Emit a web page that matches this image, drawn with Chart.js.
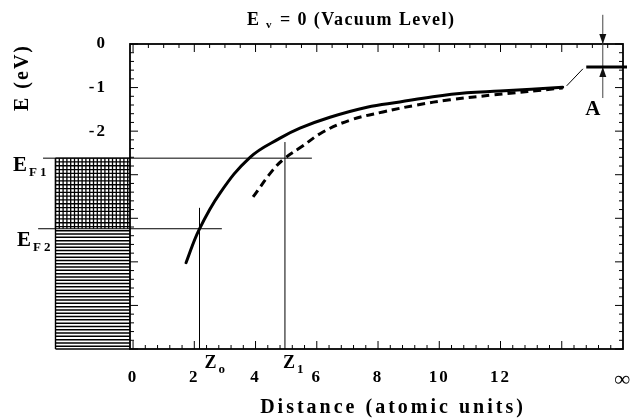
<!DOCTYPE html>
<html><head><meta charset="utf-8">
<script src="https://cdn.jsdelivr.net/npm/chart.js@4.4.0/dist/chart.umd.min.js"></script>
<style>html,body{margin:0;padding:0;background:#fff;}#wrap{width:631px;height:420px;}</style>
</head><body><div id="wrap"><canvas id="c" width="631" height="420"></canvas></div>
<script>
// ---- data ----
const solidDist   = [1.73, 2.15, 2.84, 3.82, 4.80, 5.45, 6.43, 7.64, 8.71, 9.79, 10.9, 11.98, 14.03];
const solidEnergy = [-5.02, -4.27, -3.42, -2.60, -2.16, -1.93, -1.68, -1.45, -1.33, -1.21, -1.12, -1.08, -0.99];
const dashedDist   = [3.92, 4.57, 4.96, 5.50, 6.20, 7.08, 8.16, 9.27, 10.35, 11.75, 14.03];
const dashedEnergy = [-3.51, -2.89, -2.62, -2.36, -2.02, -1.75, -1.56, -1.40, -1.28, -1.17, -1.01];
const xTickValues = [0, 2, 4, 6, 8, 10, 12, 16];
const xTickLabels = ['0', '2', '4', '6', '8', '10', '12', '\u221E'];
const yTickValues = [0, -1, -2];
const yTickLabels = ['0', '-1', '-2'];
const fermiLevels = [-2.62, -4.24];      // E_F1, E_F2
const fermiNames  = ['F1', 'F2'];
const zPositions  = [2.17, 4.96];        // Z_o, Z_1
const zNames      = ['o', '1'];
const vacuumLevel = 0;
const affinityLevel = -0.53;             // level marked "A"

// ---- drawing geometry (not data) ----
const metalLeft = -2.55;
const fermiSpan = [[-2.94, 5.84], [-3.1, 2.9]];
const zTop = [-3.76, -2.25];
const SERIF = '"Liberation Serif", "Times New Roman", serif';

function line(ctx, x0, y0, x1, y1) { ctx.beginPath(); ctx.moveTo(x0, y0); ctx.lineTo(x1, y1); ctx.stroke(); }

const decor = {
  id: 'decor',
  beforeDraw(chart) { chart.ctx.letterSpacing = '2px'; },
  beforeDatasetsDraw(chart) {
    const {ctx, chartArea: a, scales: {x, y}} = chart;
    const X = v => x.getPixelForValue(v), Y = v => y.getPixelForValue(v);
    ctx.save();
    ctx.strokeStyle = '#000';
    // metal block
    const mx0 = Math.round(X(metalLeft)) + 0.5, mx1 = a.left;
    const yF1 = Y(fermiLevels[0]), yF2 = Y(fermiLevels[1]), yB = a.bottom;
    ctx.lineWidth = 1.3;
    for (let xx = mx0; xx <= mx1; xx += 3.8) line(ctx, xx, yF1, xx, yF2);
    for (let yy = yF1; yy <= yF2; yy += 3.8) line(ctx, mx0, yy, mx1, yy);
    ctx.lineWidth = 1.5;
    for (let yy = yF2 + 2; yy <= yB; yy += 3.3) line(ctx, mx0, yy, mx1, yy);
    ctx.lineWidth = 1.4;
    line(ctx, mx0, yF1, mx0, yB); line(ctx, mx0, yB, mx1, yB);
    // Fermi level lines
    ctx.lineWidth = 1;
    fermiLevels.forEach((e, i) => line(ctx, X(fermiSpan[i][0]), Y(e), X(fermiSpan[i][1]), Y(e)));
    // Z lines
    zPositions.forEach((z, i) => line(ctx, X(z), Y(zTop[i]), X(z), a.bottom));
    ctx.restore();
  },
  afterDraw(chart) {
    const {ctx, chartArea: a, scales: {x, y}} = chart;
    const X = v => x.getPixelForValue(v), Y = v => y.getPixelForValue(v);
    ctx.save();
    ctx.strokeStyle = '#000'; ctx.fillStyle = '#000';
    // frame
    ctx.lineWidth = 1.8;
    ctx.strokeRect(a.left, a.top, a.right - a.left, a.bottom - a.top);
    // inward ticks
    ctx.lineWidth = 1;
    for (let i = 0; i <= 39; i++) {           // bottom, 0.4 steps
      const v = i * 0.4; const maj = Math.abs(v / 2 - Math.round(v / 2)) < 1e-6;
      const px = X(v); line(ctx, px, a.bottom, px, a.bottom - (maj ? 8 : 4));
    }
    for (let i = 0; i <= 31; i++) {           // top, 0.5 steps
      const v = i * 0.5; const maj = i % 4 === 0;
      const px = X(v); line(ctx, px, a.top, px, a.top + (maj ? 8 : 4));
    }
    for (let i = 0; i <= 35; i++) {           // left / right, 0.2 steps
      const v = -i * 0.2; const maj = i % 5 === 0;
      const py = Y(v);
      line(ctx, a.left, py, a.left + (maj ? 8 : 4), py);
      line(ctx, a.right, py, a.right - (maj ? 8 : 4), py);
    }
    // affinity marker
    const xm = X(15.34);
    ctx.strokeStyle = '#444'; ctx.lineWidth = 1;
    line(ctx, xm, Y(0.67), xm, Y(-1.24));
    ctx.fillStyle = '#111';
    ctx.beginPath(); ctx.moveTo(xm, Y(vacuumLevel)); ctx.lineTo(xm - 3.5, Y(vacuumLevel) - 10); ctx.lineTo(xm + 3.5, Y(vacuumLevel) - 10); ctx.closePath(); ctx.fill();
    ctx.beginPath(); ctx.moveTo(xm, Y(affinityLevel)); ctx.lineTo(xm - 3.5, Y(affinityLevel) + 10); ctx.lineTo(xm + 3.5, Y(affinityLevel) + 10); ctx.closePath(); ctx.fill();
    ctx.strokeStyle = '#000'; ctx.lineWidth = 3;
    line(ctx, X(14.8), Y(affinityLevel), X(16.13), Y(affinityLevel));
    ctx.lineWidth = 1;
    line(ctx, X(14.16), Y(-0.96), X(14.69), Y(-0.57));
    // texts
    ctx.fillStyle = '#000'; ctx.textBaseline = 'alphabetic'; ctx.textAlign = 'left';
    ctx.letterSpacing = '1.4px';
    ctx.font = 'bold 18px ' + SERIF; ctx.fillText('E', 247, 25);
    ctx.font = 'bold 11px ' + SERIF; ctx.fillText('v', 266, 28);
    ctx.font = 'bold 18px ' + SERIF; ctx.fillText('= 0 (Vacuum Level)', 280, 25);
    // x axis title
    ctx.letterSpacing = '3px'; ctx.textAlign = 'center';
    ctx.font = 'bold 20px ' + SERIF; ctx.fillText('Distance (atomic units)', 393, 413);
    ctx.textAlign = 'left';
    // Fermi labels
    const fl = [[13, 171], [17, 246]];
    fermiNames.forEach((n, i) => {
      ctx.letterSpacing = '0px'; ctx.font = 'bold 21px ' + SERIF; ctx.fillText('E', fl[i][0], fl[i][1]);
      ctx.letterSpacing = '3px'; ctx.font = 'bold 13px ' + SERIF; ctx.fillText(n, fl[i][0] + 16, fl[i][1] + 5);
    });
    // Z labels
    const zo = [5, -2];
    zNames.forEach((n, i) => {
      const zx = X(zPositions[i]) + zo[i];
      ctx.letterSpacing = '0px'; ctx.font = 'bold 18px ' + SERIF; ctx.fillText('Z', zx, a.bottom + 19);
      ctx.font = 'bold 13px ' + SERIF; ctx.fillText(n, zx + 14, a.bottom + 24);
    });
    // A label
    ctx.font = 'bold 21px ' + SERIF; ctx.fillText('A', X(14.8) - 1, Y(-1.51) + 5);
    ctx.restore();
  }
};

new Chart(document.getElementById('c'), {
  type: 'scatter',
  data: {
    datasets: [
      { data: solidDist.map((d, i) => ({x: d, y: solidEnergy[i]})), showLine: true, borderColor: '#000', borderWidth: 3,
        pointRadius: 0, tension: 0.4, borderCapStyle: 'round' },
      { data: dashedDist.map((d, i) => ({x: d, y: dashedEnergy[i]})), showLine: true, borderColor: '#000', borderWidth: 3,
        pointRadius: 0, tension: 0.4, borderDash: [8, 5], borderCapStyle: 'butt' }
    ]
  },
  options: {
    responsive: false, animation: false, devicePixelRatio: 1,
    layout: { padding: { top: 44, right: 8, left: 0, bottom: 0 } },
    plugins: { legend: { display: false }, title: { display: false }, tooltip: { enabled: false } },
    scales: {
      x: {
        type: 'linear', position: 'bottom', min: -0.1, max: 16,
        afterBuildTicks: s => { s.ticks = xTickValues.map(v => ({value: v})); },
        afterFit: s => { s.height = 71; s.paddingLeft = 0; s.paddingRight = 0; },
        grid: { display: false }, border: { display: false },
        ticks: {
          autoSkip: false, maxRotation: 0, padding: 10, color: '#000',
          callback: (v, i) => xTickLabels[i],
          font: ctx => ({ family: SERIF, weight: 'bold', size: xTickLabels[ctx.index] === '\u221E' ? 22 : 17 })
        }
      },
      y: {
        type: 'linear', position: 'left', min: -7, max: 0,
        afterBuildTicks: s => { s.ticks = yTickValues.map(v => ({value: v})); },
        afterFit: s => { s.width = 130; s.paddingTop = 0; s.paddingBottom = 0; },
        grid: { display: false }, border: { display: false },
        ticks: { padding: 15, color: '#000', callback: (v, i) => yTickLabels[i],
          font: { family: SERIF, weight: 'bold', size: 17 } },
        title: { display: true, text: 'E (eV)', align: 'end', color: '#000',
          font: { family: SERIF, weight: 'bold', size: 20 }, padding: { top: 11, bottom: 0 } }
      }
    }
  },
  plugins: [decor]
});
</script>
</body></html>
